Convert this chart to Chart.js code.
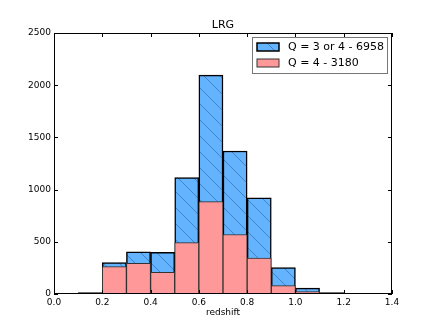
<!DOCTYPE html>
<html>
<head>
<meta charset="utf-8">
<script src="https://cdn.jsdelivr.net/npm/chart.js@4"></script>
<style>
  body { margin: 0; background: #fff; }
  canvas { display: block; }
</style>
</head>
<body>
<canvas id="chart" width="436" height="327"></canvas>
<script>
// histogram bins (left edges, width 0.1)
const binStarts = [0.0, 0.1, 0.2, 0.3, 0.4, 0.5, 0.6, 0.7, 0.8, 0.9, 1.0, 1.1, 1.2, 1.3];
const q3or4 = [6, 14, 300, 405, 400, 1115, 2097, 1370, 922, 253, 57, 14, 4, 1];
const q4 = [2, 6, 262, 294, 208, 492, 885, 570, 343, 80, 22, 5, 1, 0];
const xTicks = [0.0, 0.2, 0.4, 0.6, 0.8, 1.0, 1.2, 1.4];
const yTicks = [0, 500, 1000, 1500, 2000, 2500];
const labels = ['Q = 3 or 4 - 6958', 'Q = 4 - 3180'];

const FONT = 'DejaVu Sans';
const canvas = document.getElementById('chart');
const ctx = canvas.getContext('2d');

function makeHatch(fill, line, size) {
  const c = document.createElement('canvas');
  c.width = c.height = size;
  const g = c.getContext('2d');
  g.fillStyle = fill;
  g.fillRect(0, 0, size, size);
  g.strokeStyle = line;
  g.lineWidth = 1;
  g.beginPath();
  g.moveTo(-2, -2); g.lineTo(size + 2, size + 2);
  g.moveTo(-2, size - 2); g.lineTo(2, size + 2);
  g.moveTo(size - 2, -2); g.lineTo(size + 2, 2);
  g.stroke();
  return ctx.createPattern(c, 'repeat');
}

const blue = '#63b3ff';
const pink = '#ff9999';
const hatch = makeHatch(blue, 'rgba(30,70,130,0.45)', 16);

const toPoints = vals => vals.map((v, i) => ({ x: binStarts[i] + 0.05, y: v }));

const framePlugin = {
  id: 'frame',
  afterDatasetsDraw(chart) {
    const { ctx, chartArea: a, scales } = chart;
    ctx.save();
    ctx.strokeStyle = '#000';
    ctx.lineWidth = 1;
    ctx.strokeRect(a.left + 0.5, a.top + 0.5, a.right - a.left - 1, a.bottom - a.top - 1);
    ctx.beginPath();
    scales.x.ticks.forEach(t => {
      const px = Math.round(scales.x.getPixelForValue(t.value)) + 0.5;
      ctx.moveTo(px, a.bottom); ctx.lineTo(px, a.bottom - 4);
      ctx.moveTo(px, a.top); ctx.lineTo(px, a.top + 4);
    });
    scales.y.ticks.forEach(t => {
      const py = Math.round(scales.y.getPixelForValue(t.value)) + 0.5;
      ctx.moveTo(a.left, py); ctx.lineTo(a.left + 4, py);
      ctx.moveTo(a.right, py); ctx.lineTo(a.right - 4, py);
    });
    ctx.stroke();
    ctx.restore();
  },
  afterDraw(chart) {
    const { ctx, chartArea: a } = chart;
    ctx.save();
    // title
    ctx.fillStyle = '#000';
    ctx.font = '11px "' + FONT + '"';
    ctx.textAlign = 'center';
    ctx.textBaseline = 'middle';
    ctx.fillText('LRG', (a.left + a.right) / 2, 25);
    // legend
    const bx = 252.5, by = 37.5, bw = 135, bh = 36;
    ctx.fillStyle = '#fff';
    ctx.fillRect(bx, by, bw, bh);
    ctx.strokeStyle = '#777';
    ctx.lineWidth = 1;
    ctx.strokeRect(bx, by, bw, bh);
    const ds = chart.data.datasets;
    const rows = [43, 59];
    ds.forEach((d, i) => {
      ctx.fillStyle = d.backgroundColor;
      ctx.fillRect(257, rows[i], 22, 8);
      ctx.strokeStyle = d.borderColor;
      ctx.lineWidth = i === 0 ? 1.5 : 1;
      ctx.strokeRect(257, rows[i], 22, 8);
      ctx.fillStyle = '#000';
      ctx.textAlign = 'left';
      ctx.textBaseline = 'middle';
      ctx.font = '11px "' + FONT + '"';
      ctx.fillText(d.label, 288, rows[i] + 4.5);
    });
    ctx.restore();
  }
};

new Chart(ctx, {
  type: 'bar',
  data: {
    datasets: [
      {
        label: labels[0],
        data: toPoints(q3or4),
        backgroundColor: hatch,
        borderColor: '#000',
        borderWidth: 1.5,
        order: 2,
        grouped: false,
        barPercentage: 1,
        categoryPercentage: 1
      },
      {
        label: labels[1],
        data: toPoints(q4),
        backgroundColor: pink,
        borderColor: '#333',
        borderWidth: 1,
        order: 1,
        grouped: false,
        barPercentage: 1,
        categoryPercentage: 1
      }
    ]
  },
  options: {
    responsive: false,
    animation: false,
    layout: { padding: { top: 33, right: 44, left: 0, bottom: 0 } },
    plugins: {
      legend: { display: false },
      title: { display: false },
      tooltip: { enabled: false }
    },
    scales: {
      x: {
        type: 'linear',
        min: 0,
        max: 1.4,
        offset: false,
        grid: { display: false, drawTicks: false },
        border: { display: false },
        afterBuildTicks(s) { s.ticks = xTicks.map(v => ({ value: v })); },
        ticks: {
          callback: v => Number(v).toFixed(1),
          font: { family: FONT, size: 9 },
          color: '#000',
          padding: 3,
          maxRotation: 0,
          autoSkip: false
        },
        title: {
          display: true,
          text: 'redshift',
          font: { family: FONT, size: 9 },
          color: '#000',
          padding: { top: 0, bottom: 8.6 }
        },
        afterFit(s) { s.height = 33; }
      },
      y: {
        min: 0,
        max: 2500,
        grid: { display: false, drawTicks: false },
        border: { display: false },
        afterBuildTicks(s) { s.ticks = yTicks.map(v => ({ value: v })); },
        ticks: {
          callback: v => String(v),
          font: { family: FONT, size: 9 },
          color: '#000',
          padding: 3
        },
        afterFit(s) { s.width = 54; }
      }
    }
  },
  plugins: [framePlugin]
});
</script>
</body>
</html>
